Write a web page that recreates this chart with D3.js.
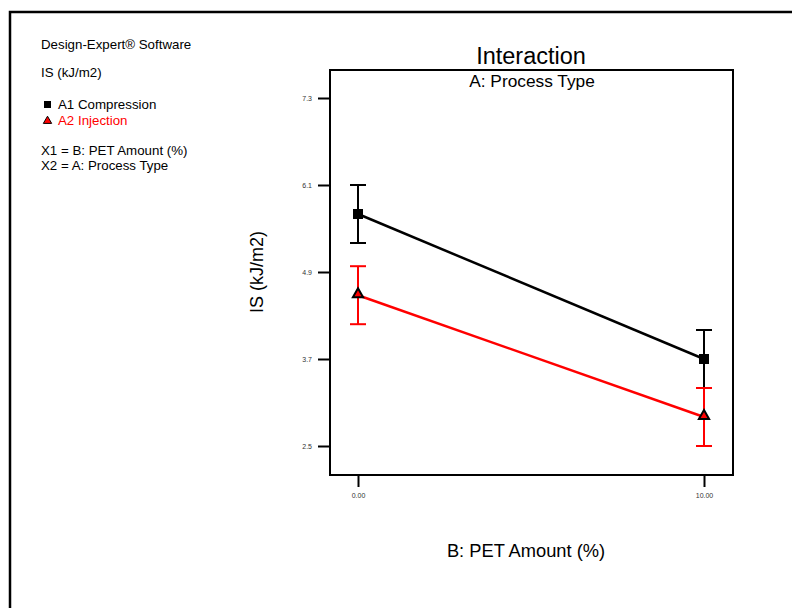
<!DOCTYPE html>
<html><head><meta charset="utf-8">
<script src="https://cdn.jsdelivr.net/npm/d3@7"></script>
<style>body{margin:0;background:#fff}svg{display:block;font-family:Arial,"Liberation Sans",sans-serif}</style>
</head><body><svg id="c" width="792" height="608"></svg>
<script>
const xValues = [0, 10];
const xTickLabels = ["0.00", "10.00"];
const yTicks = [2.5, 3.7, 4.9, 6.1, 7.3];
const a1Mean = [5.70, 3.70];
const a1Low = [5.30, 3.30];
const a1High = [6.10, 4.10];
const a2Mean = [4.58, 2.90];
const a2Low = [4.18, 2.50];
const a2High = [4.98, 3.30];
const seriesNames = ["A1 Compression", "A2 Injection"];

const svg = d3.select("#c");
const L = 330, R = 733, T = 70, B = 475;
const x = d3.scaleLinear().domain([0, 10]).range([358, 704]);
const y = d3.scaleLinear().domain([2.5, 7.3]).range([446, 98]);

// outer frame
svg.append("path").attr("d", "M10,700 L10,12 L900,12").attr("fill", "none").attr("stroke", "#000").attr("stroke-width", 2.5);

// left info text
const info = svg.append("g").attr("font-size", 13.3).attr("fill", "#000");
info.append("text").attr("x", 41).attr("y", 49).text("Design-Expert® Software");
info.append("text").attr("x", 41).attr("y", 77).text("IS (kJ/m2)");
info.append("rect").attr("x", 44).attr("y", 101).attr("width", 7).attr("height", 7).attr("fill", "#000");
info.append("text").attr("x", 58).attr("y", 109).text(seriesNames[0]);
info.append("path").attr("d", d3.symbol(d3.symbolTriangle, 30)()).attr("transform", "translate(47.5,121)").attr("fill", "#f00").attr("stroke", "#000").attr("stroke-width", 1);
info.append("text").attr("x", 58).attr("y", 125).attr("fill", "#f00").text(seriesNames[1]);
info.append("text").attr("x", 41).attr("y", 155).text("X1 = B: PET Amount (%)");
info.append("text").attr("x", 41).attr("y", 170).text("X2 = A: Process Type");

// plot box
svg.append("rect").attr("x", L).attr("y", T).attr("width", R - L).attr("height", B - T).attr("fill", "none").attr("stroke", "#000").attr("stroke-width", 2);

// axes
const yAxis = d3.axisLeft(y).tickValues(yTicks).tickFormat(d3.format(".1f")).tickSize(12).tickPadding(6);
const gy = svg.append("g").attr("transform", `translate(${L},0)`).call(yAxis);
gy.select(".domain").remove();
gy.selectAll(".tick line").attr("stroke-width", 2);
gy.selectAll(".tick text").attr("font-size", 7).attr("font-family", "Arial,'Liberation Sans',sans-serif").attr("fill", "#333");

const xAxis = d3.axisBottom(x).tickValues(xValues).tickFormat((d, i) => xTickLabels[i]).tickSize(12).tickPadding(6);
const gx = svg.append("g").attr("transform", `translate(0,${B})`).call(xAxis);
gx.select(".domain").remove();
gx.selectAll(".tick line").attr("stroke-width", 2);
gx.selectAll(".tick text").attr("font-size", 7).attr("font-family", "Arial,'Liberation Sans',sans-serif").attr("fill", "#333");

// titles
svg.append("text").attr("x", 531).attr("y", 64).attr("text-anchor", "middle").attr("font-size", 23.5).text("Interaction");
svg.append("text").attr("x", 532).attr("y", 87).attr("text-anchor", "middle").attr("font-size", 17.3).text("A: Process Type");
svg.append("text").attr("x", 526).attr("y", 557).attr("text-anchor", "middle").attr("font-size", 18.3).text("B: PET Amount (%)");
svg.append("text").attr("transform", "translate(263,272) rotate(-90)").attr("text-anchor", "middle").attr("font-size", 18).text("IS (kJ/m2)");

function drawSeries(mean, low, high, color) {
  const g = svg.append("g");
  const line = d3.line().x((d, i) => x(xValues[i])).y(d => y(d));
  g.append("path").datum(mean).attr("d", line).attr("fill", "none").attr("stroke", color).attr("stroke-width", 2.5);
  xValues.forEach((xv, i) => {
    const cx = x(xv);
    g.append("line").attr("x1", cx).attr("x2", cx).attr("y1", y(low[i])).attr("y2", y(high[i])).attr("stroke", color).attr("stroke-width", 2);
    [low[i], high[i]].forEach(v => {
      g.append("line").attr("x1", cx - 8).attr("x2", cx + 8).attr("y1", y(v)).attr("y2", y(v)).attr("stroke", color).attr("stroke-width", 2);
    });
  });
  return g;
}
drawSeries(a1Mean, a1Low, a1High, "#000");
drawSeries(a2Mean, a2Low, a2High, "#f00");

// markers
svg.selectAll(".m1").data(a1Mean).join("rect").attr("x", (d, i) => x(xValues[i]) - 5).attr("y", d => y(d) - 5).attr("width", 10).attr("height", 10).attr("fill", "#000");
svg.selectAll(".m2").data(a2Mean).join("path").attr("d", d3.symbol(d3.symbolTriangle, 45)()).attr("transform", (d, i) => `translate(${x(xValues[i])},${y(d) - 1})`).attr("fill", "#f00").attr("stroke", "#000").attr("stroke-width", 2);
</script></body></html>
